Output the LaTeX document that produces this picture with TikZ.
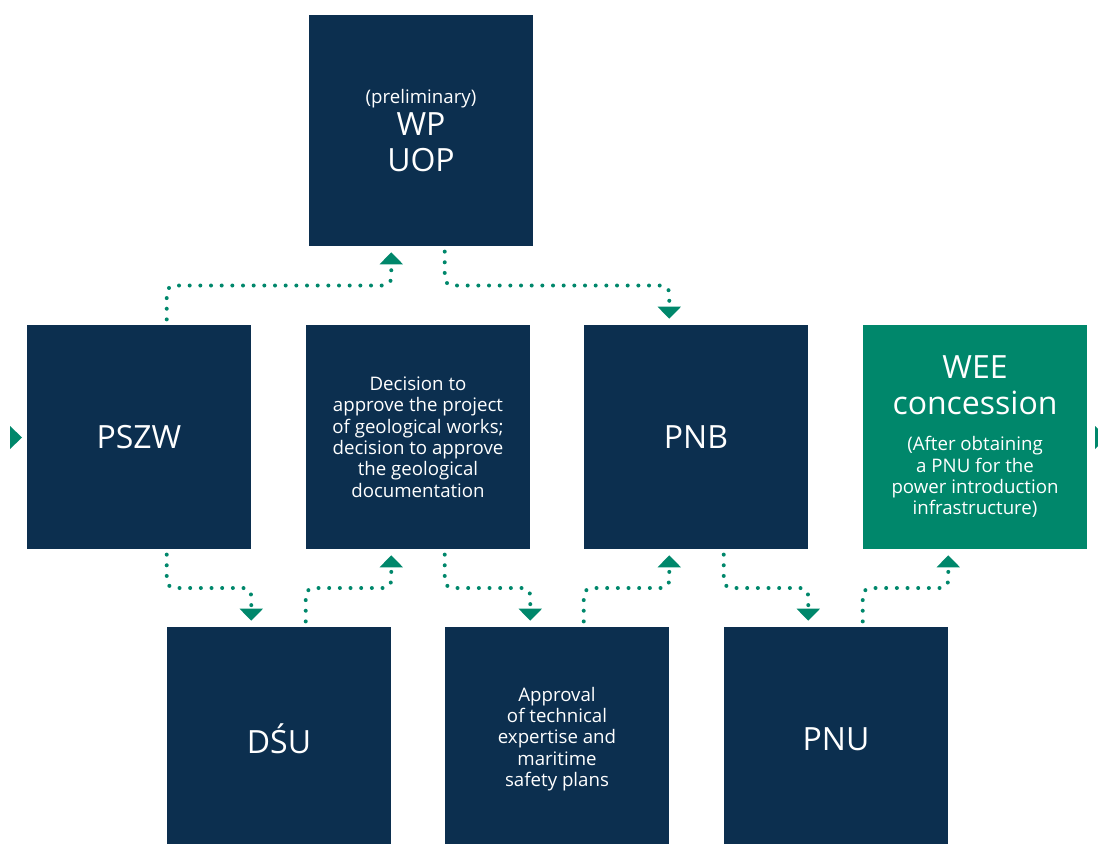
\documentclass[tikz,border=0pt]{standalone}
\usepackage{fontspec}
\setmainfont{Open Sans}
\usetikzlibrary{arrows.meta,calc}

\definecolor{boxblue}{HTML}{0C2F4F}
\definecolor{boxgreen}{HTML}{00876B}
\newcommand{\bigtxt}{\fontsize{24}{27}\selectfont}
\newcommand{\smalltxt}{\fontsize{14}{16}\selectfont}

\begin{document}
\begin{tikzpicture}[x=0.75pt, y=-0.75pt,
    stepbox/.style={fill=boxblue, text=white, align=center, inner sep=0pt,
        minimum width=168pt, minimum height=168pt, font=\bigtxt},
    smallbox/.style={stepbox, font=\smalltxt},
    dotline/.style={boxgreen, line width=3pt, line cap=round, rounded corners=6pt,
        dash pattern=on 0pt off 8pt, shorten <=4pt, shorten >=4.5pt,
        -{Triangle[width=17pt,length=9pt]}}]
    \useasboundingbox (0,0) rectangle (1098,843);
    \clip (0,0) rectangle (1098,843);

    % top
    \node[stepbox, minimum height=173.25pt] (wp) at (421,130.5)
        {{\smalltxt (preliminary)}\\[-3pt] WP\\ UOP};

    % middle row
    \node[stepbox] (pszw) at (139,437) {PSZW};
    \node[smallbox] (dec) at (418,437) {Decision to\\approve the project\\of geological works;\\decision to approve\\the geological\\documentation};
    \node[stepbox] (pnb) at (696,437) {PNB};
    \node[stepbox, fill=boxgreen] (wee) at (975,437)
        {WEE\\concession\\{\smalltxt (After obtaining}\\[-11pt]{\smalltxt a PNU for the}\\[-11pt]{\smalltxt power introduction}\\[-11pt]{\smalltxt infrastructure)}};

    % bottom row
    \node[stepbox] (dsu) at (279,739) {DŚU};
    \node[smallbox] (appr) at (557,739) {Approval\\of technical\\expertise and\\maritime\\safety plans};
    \node[stepbox] (pnu) at (836,739) {PNU};

    % dotted steps
    \draw[dotline] (pszw.north -| dsu.west) |- ($(pszw.north)!.5!(wp.south)$) -| (wp.south -| dsu.east);
    \draw[dotline] (wp.south -| appr.west) |- ($(wp.south)!.5!(pnb.north)$) -| (pnb.north -| appr.east);
    \draw[dotline] (pszw.south -| dsu.west) |- ($(pszw.south)!.5!(dsu.north)$) -| (dsu.north -| pszw.east);
    \draw[dotline] (dsu.north -| dec.west) |- ($(dsu.north)!.5!(dec.south)$) -| (dec.south -| dsu.east);
    \draw[dotline] (dec.south -| appr.west) |- ($(dec.south)!.5!(appr.north)$) -| (appr.north -| dec.east);
    \draw[dotline] (appr.north -| pnb.west) |- ($(appr.north)!.5!(pnb.south)$) -| (pnb.south -| appr.east);
    \draw[dotline] (pnb.south -| pnu.west) |- ($(pnb.south)!.5!(pnu.north)$) -| (pnu.north -| pnb.east);
    \draw[dotline] (pnu.north -| wee.west) |- ($(pnu.north)!.5!(wee.south)$) -| (wee.south -| pnu.east);

    % side markers
    \fill[boxgreen] (10,426) -- (22,437.5) -- (10,449) -- cycle;
    \fill[boxgreen] (1095,426) -- (1107,437.5) -- (1095,449) -- cycle;
\end{tikzpicture}
\end{document}
